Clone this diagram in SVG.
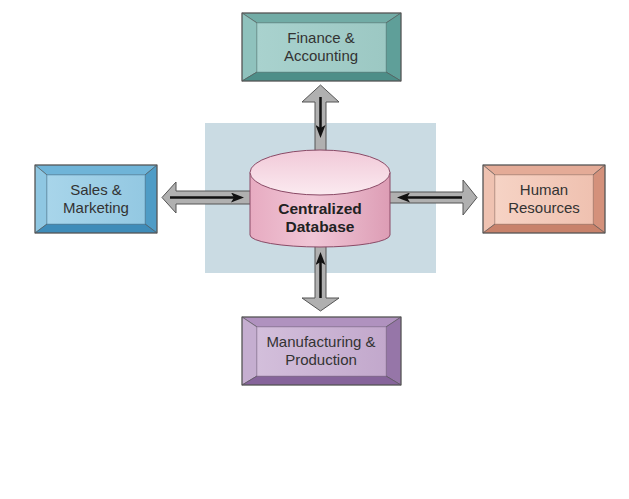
<svg xmlns="http://www.w3.org/2000/svg" width="629" height="499" viewBox="0 0 629 499">
<defs>
<style>
.lbl{font-family:"Liberation Sans",Arial,sans-serif;font-size:15px;fill:#333;text-anchor:middle}
.db{font-family:"Liberation Sans",Arial,sans-serif;font-size:15.5px;font-weight:bold;fill:#222;text-anchor:middle}
.edge{stroke:#555;stroke-width:0.6}
.garrow{fill:#b0b0b0;stroke:#555;stroke-width:1;stroke-linejoin:miter}
.blk{stroke:#111;stroke-width:2.5;fill:none}
</style>
<marker id="ah" markerUnits="userSpaceOnUse" markerWidth="14" markerHeight="10" refX="6" refY="5" orient="auto">
<path d="M0,0 L13,5 L0,10 L3,5 z" fill="#111"/>
</marker>
<linearGradient id="gFin" x1="0" y1="0" x2="1" y2="0"><stop offset="0" stop-color="#a9d2ce"/><stop offset="1" stop-color="#9cc8c3"/></linearGradient>
<linearGradient id="gSal" x1="0" y1="0" x2="1" y2="0"><stop offset="0" stop-color="#a8d5ea"/><stop offset="1" stop-color="#93c8e2"/></linearGradient>
<linearGradient id="gHR" x1="0" y1="0" x2="1" y2="0"><stop offset="0" stop-color="#f6d3c5"/><stop offset="1" stop-color="#efc1b0"/></linearGradient>
<linearGradient id="gMan" x1="0" y1="0" x2="1" y2="0"><stop offset="0" stop-color="#d3bfdb"/><stop offset="1" stop-color="#c2a8cc"/></linearGradient>
<linearGradient id="gCyl" x1="0" y1="0" x2="1" y2="0"><stop offset="0" stop-color="#e7abc1"/><stop offset="0.45" stop-color="#f0c6d6"/><stop offset="1" stop-color="#dd9db5"/></linearGradient>
<linearGradient id="gTop" x1="0" y1="0" x2="0" y2="1"><stop offset="0" stop-color="#f1c9d8"/><stop offset="1" stop-color="#fbeaf0"/></linearGradient>
</defs>
<rect width="629" height="499" fill="#ffffff"/>
<rect x="205" y="123" width="231" height="150" fill="#cadbe3"/>

<g id="connectors">
<polygon class="garrow" points="315,153 315,102 302,102 320.5,85 339,102 326,102 326,153"/>
<polygon class="garrow" points="315,240 315,298 302,298 320.5,311 339,298 326,298 326,240"/>
<polygon class="garrow" points="252,191 176,191 176,182 162,197.5 176,213 176,204 252,204"/>
<polygon class="garrow" points="388,192 463,192 463,180 477,197.5 463,215 463,203 388,203"/>
<line class="blk" x1="320.5" y1="97" x2="320.5" y2="131" marker-end="url(#ah)"/>
<line class="blk" x1="320.5" y1="298" x2="320.5" y2="259" marker-end="url(#ah)"/>
<line class="blk" x1="170" y1="197.5" x2="237" y2="197.5" marker-end="url(#ah)"/>
<line class="blk" x1="462" y1="197.5" x2="404" y2="197.5" marker-end="url(#ah)"/>
</g>

<g id="db">
<path d="M250,172.5 L250,235 A70,12 0 0 0 390,235 L390,172.5 Z" fill="url(#gCyl)" stroke="#8a4a66" stroke-width="1"/>
<ellipse cx="320" cy="172.5" rx="70" ry="22.5" fill="url(#gTop)" stroke="#8a4a66" stroke-width="1"/>
<text class="db" x="320" y="214">Centralized</text>
<text class="db" x="320" y="232">Database</text>
</g>

<g id="finance">
<rect x="242" y="13" width="159" height="68" fill="#6aa9a3"/>
<polygon class="edge" points="242,13 401,13 386,23 257,23" fill="#72aca6"/>
<polygon class="edge" points="242,13 257,23 257,72 242,81" fill="#8fc2bd"/>
<polygon class="edge" points="401,13 401,81 386,72 386,23" fill="#5f9f99"/>
<polygon class="edge" points="242,81 257,72 386,72 401,81" fill="#4d8e88"/>
<rect x="257" y="23" width="129" height="49" fill="url(#gFin)" stroke="#6a9a96" stroke-width="0.6"/>
<rect x="242" y="13" width="159" height="68" fill="none" stroke="#555" stroke-width="1"/>
<text class="lbl" x="321" y="43">Finance &amp;</text>
<text class="lbl" x="321" y="61">Accounting</text>
</g>

<g id="sales">
<rect x="35" y="165" width="122" height="68" fill="#5aa8d0"/>
<polygon class="edge" points="35,165 157,165 145,175 47,175" fill="#6fb4d8"/>
<polygon class="edge" points="35,165 47,175 47,224 35,233" fill="#8fc7e2"/>
<polygon class="edge" points="157,165 157,233 145,224 145,175" fill="#4f9cc6"/>
<polygon class="edge" points="35,233 47,224 145,224 157,233" fill="#3f8cb9"/>
<rect x="47" y="175" width="98" height="49" fill="url(#gSal)" stroke="#5a95b5" stroke-width="0.6"/>
<rect x="35" y="165" width="122" height="68" fill="none" stroke="#555" stroke-width="1"/>
<text class="lbl" x="96" y="195">Sales &amp;</text>
<text class="lbl" x="96" y="213">Marketing</text>
</g>

<g id="hr">
<rect x="483" y="165" width="122" height="68" fill="#dba08b"/>
<polygon class="edge" points="483,165 605,165 593,175 495,175" fill="#e4ab97"/>
<polygon class="edge" points="483,165 495,175 495,224 483,233" fill="#efc2b1"/>
<polygon class="edge" points="605,165 605,233 593,224 593,175" fill="#d4917b"/>
<polygon class="edge" points="483,233 495,224 593,224 605,233" fill="#c8826b"/>
<rect x="495" y="175" width="98" height="49" fill="url(#gHR)" stroke="#c99a88" stroke-width="0.6"/>
<rect x="483" y="165" width="122" height="68" fill="none" stroke="#555" stroke-width="1"/>
<text class="lbl" x="544" y="195">Human</text>
<text class="lbl" x="544" y="213">Resources</text>
</g>

<g id="manufacturing">
<rect x="242" y="317" width="159" height="68" fill="#a583b4"/>
<polygon class="edge" points="242,317 401,317 386,327 257,327" fill="#b092bf"/>
<polygon class="edge" points="242,317 257,327 257,376 242,385" fill="#c5aed0"/>
<polygon class="edge" points="401,317 401,385 386,376 386,327" fill="#9676a8"/>
<polygon class="edge" points="242,385 257,376 386,376 401,385" fill="#86649b"/>
<rect x="257" y="327" width="129" height="49" fill="url(#gMan)" stroke="#9d82a9" stroke-width="0.6"/>
<rect x="242" y="317" width="159" height="68" fill="none" stroke="#555" stroke-width="1"/>
<text class="lbl" x="321" y="347">Manufacturing &amp;</text>
<text class="lbl" x="321" y="365">Production</text>
</g>
</svg>
